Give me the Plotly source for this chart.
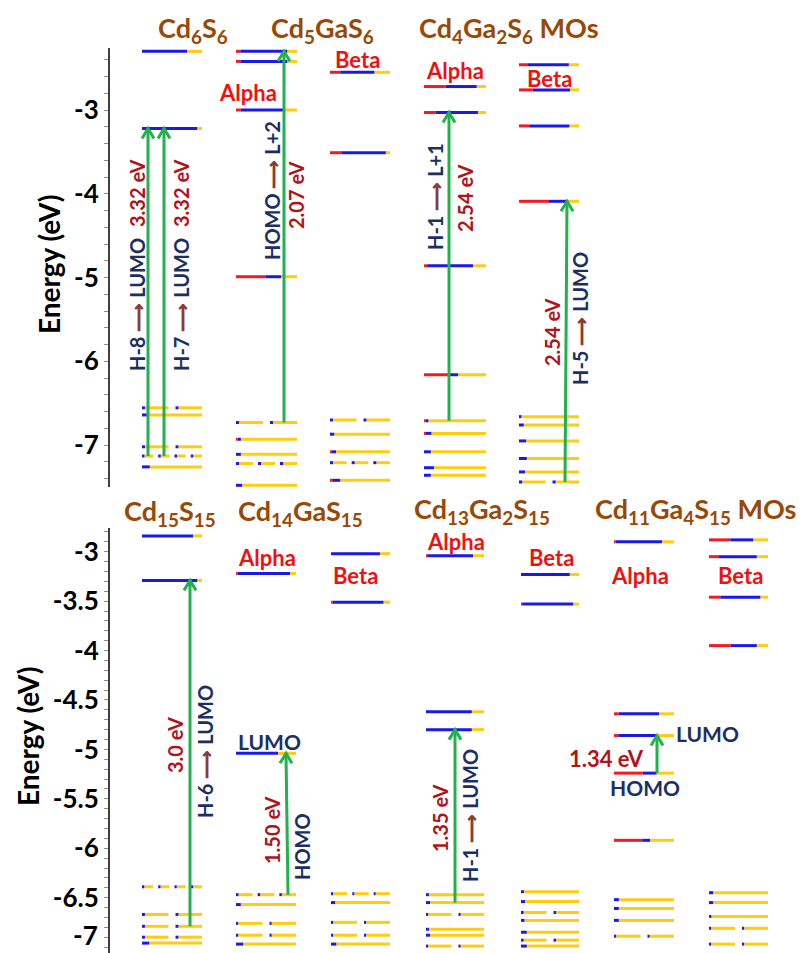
import plotly.graph_objects as go

W, H = 801, 953

# ======================= DATA =======================
# Orbital energies (eV), red fraction, blue fraction (rest is yellow),
# and degeneracy (number of segments drawn) for each column.

# ---- Top panel ----
cd6s6_E    = [-2.30, -3.22, -6.555, -6.64, -7.02, -7.13, -7.26]
cd6s6_red  = [0, 0, 0, 0, 0, 0, 0]
cd6s6_blue = [0.75, 0.92, 0.11, 0.08, 0.11, 0.22, 0.13]
cd6s6_deg  = [1, 1, 2, 1, 2, 4, 1]

cd5ga_a_E    = [-2.30, -2.42, -3.00, -4.99, -6.73, -6.93, -7.11, -7.22, -7.48]
cd5ga_a_red  = [0.07, 0.07, 0.08, 0.48, 0, 0.03, 0, 0, 0]
cd5ga_a_blue = [0.77, 0.77, 0.72, 0.26, 0.11, 0.05, 0.08, 0.18, 0.10]
cd5ga_a_deg  = [1, 1, 1, 1, 2, 1, 1, 3, 1]

cd5ga_b_E    = [-2.55, -3.51, -6.70, -6.87, -7.08, -7.21, -7.42]
cd5ga_b_red  = [0.17, 0.20, 0, 0, 0.02, 0, 0.05]
cd5ga_b_blue = [0.57, 0.73, 0.11, 0.07, 0.08, 0.18, 0.12]
cd5ga_b_deg  = [1, 1, 2, 1, 1, 3, 1]

cd4ga2_a_E    = [-2.72, -3.03, -4.86, -6.16, -6.71, -6.86, -7.08, -7.27, -7.36]
cd4ga2_a_red  = [0.35, 0.19, 0.05, 0.42, 0.03, 0.02, 0, 0, 0]
cd4ga2_a_blue = [0.50, 0.68, 0.74, 0.13, 0.04, 0.10, 0.11, 0.16, 0.11]
cd4ga2_a_deg  = [1, 1, 1, 1, 1, 1, 1, 1, 1]

cd4ga2_b_E    = [-2.46, -2.76, -3.19, -4.09, -6.66, -6.76, -6.95, -7.16, -7.32, -7.44]
cd4ga2_b_red  = [0.15, 0.23, 0.17, 0.50, 0, 0, 0, 0, 0, 0]
cd4ga2_b_blue = [0.68, 0.62, 0.67, 0.32, 0.04, 0.08, 0.12, 0.13, 0.10, 0.12]
cd4ga2_b_deg  = [1, 1, 1, 1, 1, 1, 1, 1, 1, 2]

# ---- Bottom panel ----
cd15_E    = [-2.84, -3.29, -6.39, -6.67, -6.79, -6.90, -6.96]
cd15_red  = [0, 0, 0, 0, 0, 0, 0]
cd15_blue = [0.85, 0.92, 0.20, 0.11, 0.11, 0.11, 0.12]
cd15_deg  = [1, 1, 4, 2, 2, 2, 1]

cd14_a_E    = [-3.22, -5.04, -6.47, -6.57, -6.76, -6.88, -6.97]
cd14_a_red  = [0.03, 0, 0, 0, 0, 0, 0]
cd14_a_blue = [0.87, 0.70, 0.15, 0.08, 0.08, 0.08, 0.12]
cd14_a_deg  = [1, 1, 3, 1, 2, 2, 1]

cd14_b_E    = [-3.02, -3.51, -6.46, -6.55, -6.75, -6.88, -6.97]
cd14_b_red  = [0, 0.03, 0, 0, 0, 0, 0]
cd14_b_blue = [0.83, 0.86, 0.12, 0.07, 0.08, 0.08, 0.09]
cd14_b_deg  = [1, 1, 3, 1, 2, 2, 1]

cd13_a_E    = [-3.04, -4.62, -4.80, -6.47, -6.55, -6.67, -6.82, -6.88, -6.99]
cd13_a_red  = [0.02, 0, 0, 0, 0, 0, 0, 0, 0]
cd13_a_blue = [0.79, 0.79, 0.79, 0.05, 0.07, 0.08, 0.05, 0.07, 0.08]
cd13_a_deg  = [1, 1, 1, 1, 1, 2, 1, 1, 2]

cd13_b_E    = [-3.23, -3.53, -6.44, -6.54, -6.65, -6.73, -6.85, -6.93, -6.99]
cd13_b_red  = [0, 0.02, 0, 0, 0, 0, 0, 0, 0]
cd13_b_blue = [0.84, 0.88, 0.05, 0.07, 0.10, 0.06, 0.10, 0.10, 0.10]
cd13_b_deg  = [1, 1, 1, 1, 2, 1, 1, 2, 1]

cd11_a_E    = [-2.90, -4.64, -4.86, -5.24, -5.92, -6.52, -6.61, -6.73, -6.89]
cd11_a_red  = [0.03, 0.08, 0.07, 0.48, 0.47, 0, 0, 0, 0]
cd11_a_blue = [0.77, 0.67, 0.65, 0.23, 0.13, 0.08, 0.08, 0.08, 0.08]
cd11_a_deg  = [1, 1, 1, 1, 1, 1, 1, 1, 2]

cd11_b_E    = [-2.88, -3.05, -3.46, -3.95, -6.45, -6.55, -6.69, -6.81, -6.97]
cd11_b_red  = [0.36, 0.17, 0.19, 0.37, 0, 0, 0, 0, 0]
cd11_b_blue = [0.39, 0.64, 0.68, 0.44, 0.07, 0.07, 0.04, 0.08, 0.08]
cd11_b_deg  = [1, 1, 1, 1, 1, 1, 1, 2, 2]

# Transitions: (column index, from level index, to level index)
top_transitions = [(0, 5, 1), (0, 5, 1), (1, 4, 0), (3, 4, 1), (4, 9, 3)]
bot_transitions = [(0, 4, 1), (1, 2, 1), (3, 4, 2), (5, 3, 2)]

top_ticks = [-3, -4, -5, -6, -7]
top_ticklabels = ["-3", "-4", "-5", "-6", "-7"]
bot_ticks = [-3, -3.5, -4, -4.5, -5, -5.5, -6, -6.5, -7]
bot_ticklabels = ["-3", "-3.5", "-4", "-4.5", "-5", "-5.5", "-6", "-6.5", "-7"]

# ======================= LAYOUT CONSTANTS =======================
RED, BLUE, YEL, GREEN = "#ee1c24", "#1a1ae6", "#ffcc10", "#22b14c"
NAVY, DRED, BROWN, TITLE, LRED = "#1b2f63", "#b0141b", "#8b3a3a", "#984807", "#ee1111"
FONT = "Lato"

top_cols = [(142, 202, cd6s6_E, cd6s6_red, cd6s6_blue, cd6s6_deg),
            (236, 297, cd5ga_a_E, cd5ga_a_red, cd5ga_a_blue, cd5ga_a_deg),
            (330, 390, cd5ga_b_E, cd5ga_b_red, cd5ga_b_blue, cd5ga_b_deg),
            (424, 486, cd4ga2_a_E, cd4ga2_a_red, cd4ga2_a_blue, cd4ga2_a_deg),
            (519, 579, cd4ga2_b_E, cd4ga2_b_red, cd4ga2_b_blue, cd4ga2_b_deg)]
bot_cols = [(142, 202, cd15_E, cd15_red, cd15_blue, cd15_deg),
            (236, 296, cd14_a_E, cd14_a_red, cd14_a_blue, cd14_a_deg),
            (331, 390, cd14_b_E, cd14_b_red, cd14_b_blue, cd14_b_deg),
            (426, 484, cd13_a_E, cd13_a_red, cd13_a_blue, cd13_a_deg),
            (521, 579, cd13_b_E, cd13_b_red, cd13_b_blue, cd13_b_deg),
            (614, 674, cd11_a_E, cd11_a_red, cd11_a_blue, cd11_a_deg),
            (709, 768, cd11_b_E, cd11_b_red, cd11_b_blue, cd11_b_deg)]

# arrow x positions (bottom, top) in pixels
top_arrow_x = [(148, 148), (164, 164), (284, 284), (449, 449), (565, 567)]
bot_arrow_x = [(190, 190), (288, 286), (455, 455), (657, 657)]

top_px = (48, 487)     # pixel extent of top axis
bot_px = (528, 953)
top_range = [-7.5, -2.26]
bot_range = [-7.06, -2.76]

GAPS = {1: 0, 2: 7, 3: 5, 4: 5}

fig = go.Figure()


def add_levels(cols, xa, ya):
    segs = {RED: ([], []), BLUE: ([], []), YEL: ([], [])}
    for x0, x1, E, r, b, d in cols:
        for e, rf, bf, n in zip(E, r, b, d):
            gap = GAPS[n]
            sw = (x1 - x0 - (n - 1) * gap) / n
            for k in range(n):
                s0 = x0 + k * (sw + gap)
                p1 = s0 + rf * sw
                p2 = p1 + bf * sw
                p3 = s0 + sw
                for col, a, c in ((RED, s0, p1), (BLUE, p1, p2), (YEL, p2, p3)):
                    if c - a > 0.01:
                        segs[col][0].extend([a, c, None])
                        segs[col][1].extend([e, e, None])
    for col in (YEL, BLUE, RED):
        fig.add_trace(go.Scatter(x=segs[col][0], y=segs[col][1], mode="lines",
                                 line=dict(color=col, width=3), xaxis=xa, yaxis=ya,
                                 hoverinfo="skip", showlegend=False))


def add_arrows(cols, transitions, xs, xa, ya, px, rng):
    scale = (px[1] - px[0]) / (rng[1] - rng[0])  # px per eV
    for (ci, fi, ti), (xb, xt) in zip(transitions, xs):
        E = cols[ci][2]
        e0, e1 = E[fi], E[ti]
        fig.add_trace(go.Scatter(x=[xb, xt], y=[e0, e1], mode="lines",
                                 line=dict(color=GREEN, width=3), xaxis=xa, yaxis=ya,
                                 hoverinfo="skip", showlegend=False))
        dh = 10 / scale
        fig.add_trace(go.Scatter(x=[xt - 6, xt, xt + 6], y=[e1 - dh, e1, e1 - dh],
                                 mode="lines", line=dict(color=GREEN, width=3),
                                 xaxis=xa, yaxis=ya, hoverinfo="skip", showlegend=False))


add_levels(top_cols, "x", "y")
add_levels(bot_cols, "x2", "y2")
add_arrows(top_cols, top_transitions, top_arrow_x, "x", "y", top_px, top_range)
add_arrows(bot_cols, bot_transitions, bot_arrow_x, "x2", "y2", bot_px, bot_range)

ann = []


def A(text, px, py, color, size, angle=0, **kw):
    d = dict(text=text, x=px / W, y=1 - py / H, xref="paper", yref="paper",
             showarrow=False, textangle=angle, xanchor="center", yanchor="middle",
             font=dict(family=FONT, size=size, color=color, weight="bold"))
    d.update(kw)
    ann.append(d)


ar = "<span style='color:%s'>⟶</span>" % BROWN

# titles
TS = 27
A("Cd<sub>6</sub>S<sub>6</sub>", 193, 29, TITLE, TS)
A("Cd<sub>5</sub>GaS<sub>6</sub>", 322, 29, TITLE, TS)
A("Cd<sub>4</sub>Ga<sub>2</sub>S<sub>6</sub> MOs", 509, 29, TITLE, TS)
A("Cd<sub>15</sub>S<sub>15</sub>", 170, 512, TITLE, TS)
A("Cd<sub>14</sub>GaS<sub>15</sub>", 300, 512, TITLE, TS)
A("Cd<sub>13</sub>Ga<sub>2</sub>S<sub>15</sub>", 482, 510, TITLE, TS)
A("Cd<sub>11</sub>Ga<sub>4</sub>S<sub>15</sub> MOs", 695, 510, TITLE, TS)

# alpha / beta
for t, x, y in [("Alpha", 248, 93), ("Beta", 357, 60), ("Alpha", 455, 70), ("Beta", 549, 78),
                ("Alpha", 267, 557), ("Beta", 355, 575), ("Alpha", 456, 541), ("Beta", 551, 557),
                ("Alpha", 640, 575), ("Beta", 740, 575)]:
    A(t, x, y, LRED, 22)

RS = 20
# top transition labels
A("H-8 " + ar + " LUMO", 137, 305, NAVY, RS, -90)
A("3.32 eV", 137, 193, DRED, RS, -90)
A("H-7 " + ar + " LUMO", 181, 305, NAVY, RS, -90)
A("3.32 eV", 181, 193, DRED, RS, -90)
A("HOMO " + ar + " L+2", 272, 191, NAVY, RS, -90)
A("2.07 eV", 296, 195, DRED, RS, -90)
A("H-1 " + ar + " L+1", 435, 197, NAVY, RS, -90)
A("2.54 eV", 465, 198, DRED, RS, -90)
A("2.54 eV", 552, 332, DRED, RS, -90)
A("H-5 " + ar + " LUMO", 580, 319, NAVY, RS, -90)

# bottom transition labels
A("3.0 eV", 175, 745, DRED, RS, -90)
A("H-6 " + ar + " LUMO", 205, 752, NAVY, RS, -90)
A("LUMO", 269, 741, NAVY, 21)
A("1.50 eV", 272, 830, DRED, RS, -90)
A("HOMO", 302, 847, NAVY, RS, -90)
A("1.35 eV", 440, 818, DRED, RS, -90)
A("H-1 " + ar + " LUMO", 470, 816, NAVY, RS, -90)
A("1.34 eV", 606, 758, DRED, 22)
A("LUMO", 707, 733, NAVY, 21)
A("HOMO", 645, 787, NAVY, 21)

# axis titles
A("Energy (eV)", 49, 265, "black", 28, -90)
A("Energy (eV)", 28, 737, "black", 28, -90)

TICKFONT = dict(family=FONT, size=26, color="black", weight="bold")
# the last bottom tick label sits on the page edge: keep it inside the page
ann.append(dict(text=bot_ticklabels[-1], x=100 / W, y=0, xref="paper", yref="paper",
                showarrow=False, xanchor="right", yanchor="bottom", yshift=0,
                font=TICKFONT))

yax_common = dict(anchor="free", position=109 / W, showline=True, linecolor="#404040",
                  linewidth=2, ticks="outside", ticklen=4, tickcolor="#909090", tickwidth=1,
                  showgrid=False, zeroline=False, fixedrange=True, tickfont=TICKFONT)

fig.update_layout(
    width=W, height=H, margin=dict(l=0, r=0, t=0, b=0),
    paper_bgcolor="white", plot_bgcolor="white", showlegend=False,
    xaxis=dict(range=[0, W], domain=[0, 1], visible=False, anchor="y", fixedrange=True),
    xaxis2=dict(range=[0, W], domain=[0, 1], visible=False, anchor="y2", fixedrange=True),
    yaxis=dict(domain=[1 - top_px[1] / H, 1 - top_px[0] / H], range=top_range,
               tickmode="array", tickvals=top_ticks, ticktext=top_ticklabels,
               minor=dict(tick0=-3, dtick=0.2, ticks="outside", ticklen=4,
                          tickcolor="#909090", showgrid=False),
               **yax_common),
    yaxis2=dict(domain=[1 - bot_px[1] / H, 1 - bot_px[0] / H], range=bot_range,
                tickmode="array", tickvals=bot_ticks[:-1], ticktext=bot_ticklabels[:-1],
                minor=dict(tick0=-3, dtick=0.1, ticks="outside", ticklen=4,
                           tickcolor="#909090", showgrid=False),
                **yax_common),
    annotations=ann,
)

fig.write_html("out.html")
